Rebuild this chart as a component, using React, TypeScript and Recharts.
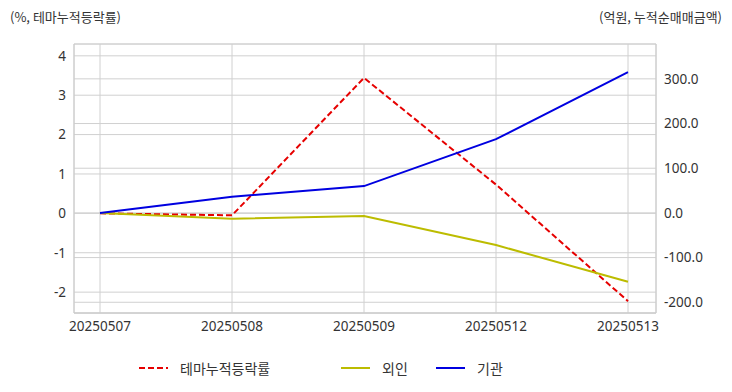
import {
  CartesianGrid,
  Legend,
  Line,
  LineChart,
  XAxis,
  YAxis,
} from "recharts";

const dates = ["20250507", "20250508", "20250509", "20250512", "20250513"];
const themeReturn = [0, -0.05, 3.44, 0.73, -2.23];
const foreign = [0, -13, -7, -72, -154];
const institution = [0, 36, 60, 165, 315];

const leftTicks = [-2, -1, 0, 1, 2, 3, 4];
const rightTicks = [-200, -100, 0, 100, 200, 300];

const series = [
  { key: "theme", name: "테마누적등락률", color: "#e60000", dash: "6 3", axis: "left" },
  { key: "foreign", name: "외인", color: "#bcbc00", dash: undefined, axis: "right" },
  { key: "inst", name: "기관", color: "#0000e0", dash: undefined, axis: "right" },
];

const data = dates.map((d, i) => ({
  date: d,
  theme: themeReturn[i],
  foreign: foreign[i],
  inst: institution[i],
}));

const font = '"Noto Sans CJK KR", "Noto Sans", sans-serif';
const tick = { fill: "#333", fontSize: 13.5, fontFamily: '"Noto Sans", sans-serif' };

function LegendBox() {
  const widths = [202, 95, 80];
  return (
    <div style={{ display: "flex", paddingLeft: 139, fontFamily: font, fontSize: 14, color: "#333" }}>
      {series.map((s, i) => (
        <div key={s.key} style={{ display: "flex", alignItems: "center", width: widths[i] }}>
          <svg width={29} height={10} style={{ marginRight: 12 }}>
            <line x1={0} y1={5} x2={29} y2={5} stroke={s.color} strokeWidth={2} strokeDasharray={s.dash} />
          </svg>
          <span>{s.name}</span>
        </div>
      ))}
    </div>
  );
}

export default function App() {
  return (
    <div style={{ position: "absolute", left: 0, top: 0, width: 732, height: 392, background: "#fff" }}>
      <div style={{ position: "absolute", left: 10, top: 7, fontFamily: font, fontSize: 13, color: "#333" }}>
        (%, 테마누적등락률)
      </div>
      <div style={{ position: "absolute", right: 10, top: 7, fontFamily: font, fontSize: 13, color: "#333" }}>
        (억원, 누적순매매금액)
      </div>
      <LineChart width={732} height={392} data={data} margin={{ top: 44, right: 0, left: 0, bottom: 29 }}>
        <CartesianGrid stroke="#d0d0d0" yAxisId="left" />
        <CartesianGrid stroke="#d0d0d0" yAxisId="right" vertical={false} />
        <XAxis
          dataKey="date"
          padding={{ left: 26, right: 28 }}
          tick={tick}
          tickLine={false}
          axisLine={{ stroke: "#ccc" }}
          height={30}
          interval={0}
        />
        <XAxis
          xAxisId="top"
          orientation="top"
          dataKey="date"
          tick={false}
          tickLine={false}
          axisLine={{ stroke: "#ccc" }}
          height={0}
        />
        <YAxis
          yAxisId="left"
          domain={[-2.53, 4.3]}
          ticks={leftTicks}
          tick={tick}
          tickLine={false}
          axisLine={{ stroke: "#ccc" }}
          width={74}
          allowDataOverflow
        />
        <YAxis
          yAxisId="right"
          orientation="right"
          domain={[-224, 378]}
          ticks={rightTicks}
          tickFormatter={(v: number) => v.toFixed(1)}
          tick={{ ...tick, textAnchor: "start" }}
          tickLine={false}
          axisLine={{ stroke: "#ccc" }}
          width={76}
          allowDataOverflow
        />
        <Legend content={<LegendBox />} wrapperStyle={{ top: 358, bottom: "auto", left: 0, width: 732 }} />
        {series.map((s) => (
          <Line
            key={s.key}
            yAxisId={s.axis}
            dataKey={s.key}
            name={s.name}
            stroke={s.color}
            strokeWidth={2}
            strokeDasharray={s.dash}
            dot={false}
            isAnimationActive={false}
          />
        ))}
      </LineChart>
    </div>
  );
}
